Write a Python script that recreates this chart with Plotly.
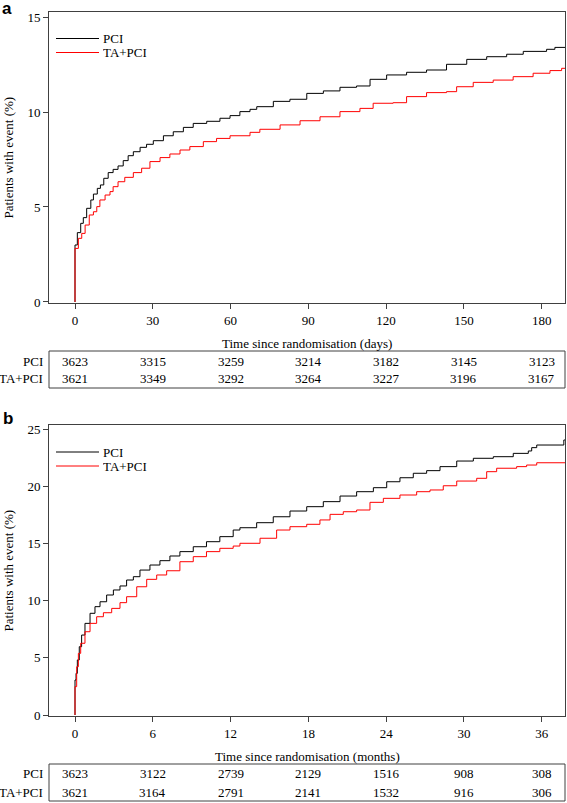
import plotly.graph_objects as go

# ---------------- data ----------------
# Panel a: cumulative events (%) vs days since randomisation
a_days_pci = [0, 0, 0.9, 2.2, 3.2, 4.5, 6.1, 7.1, 8.6, 9.8, 11.1, 12.8, 14.7, 16.6, 18.6, 20.5, 22.5, 25.1,
              27.6, 30.2, 34.1, 37.9, 41.8, 45.6, 50.8, 55.9, 59.8, 63.6, 67.5, 70.1, 76.5, 82.9, 89.4, 95.8,
              102.2, 108.6, 113.8, 120.2, 127.9, 135.6, 143.3, 151.1, 158.8, 166.5, 172.9, 181.9, 185.1, 189]
a_pct_pci = [0, 3.0, 3.65, 4.14, 4.44, 4.93, 5.37, 5.68, 5.98, 6.16, 6.51, 6.81, 6.98, 7.16, 7.44, 7.70, 7.91,
             8.14, 8.30, 8.49, 8.75, 8.96, 9.19, 9.40, 9.51, 9.67, 9.81, 10.02, 10.14, 10.28, 10.56, 10.67,
             10.98, 11.11, 11.30, 11.37, 11.72, 11.95, 12.09, 12.21, 12.51, 12.77, 12.91, 13.04, 13.19, 13.30,
             13.40, 13.40]
a_days_ta = [0, 0, 1.3, 2.6, 3.9, 5.5, 7.1, 8.4, 9.6, 11.6, 13.5, 14.7, 16.6, 19.2, 22.5, 25.7, 28.9, 32.8,
             36.6, 40.5, 44.3, 49.5, 54.6, 59.8, 67.5, 71.3, 79.1, 86.8, 94.5, 102.2, 109.9, 115.0, 122.7,
             127.9, 135.6, 143.3, 147.2, 153.6, 161.3, 169.0, 176.7, 183.2, 187.7, 189]
a_pct_ta = [0, 2.82, 3.35, 3.61, 4.05, 4.58, 4.75, 5.02, 5.37, 5.63, 5.81, 6.07, 6.33, 6.56, 6.81, 7.04, 7.39,
            7.60, 7.79, 8.0, 8.18, 8.44, 8.61, 8.75, 8.93, 9.09, 9.32, 9.54, 9.75, 10.02, 10.19, 10.46, 10.49,
            10.81, 11.02, 11.07, 11.33, 11.56, 11.68, 11.86, 12.04, 12.18, 12.30, 12.30]

# Panel b: cumulative events (%) vs months since randomisation
b_months_pci = [0, 0, 0.08, 0.18, 0.33, 0.51, 0.77, 1.16, 1.54, 1.93, 2.44, 2.96, 3.47, 3.98, 4.50, 5.01, 5.78,
                6.55, 7.32, 8.09, 9.12, 10.14, 11.17, 12.20, 12.72, 14.01, 15.29, 16.58, 17.87, 19.15, 20.44,
                21.72, 23.01, 24.04, 25.06, 26.09, 27.12, 28.15, 29.44, 30.72, 32.26, 33.80, 34.96, 35.22,
                35.61, 37.7, 37.8]
b_pct_pci = [0, 3.06, 3.64, 4.81, 5.97, 6.99, 8.01, 8.89, 9.47, 9.90, 10.49, 10.93, 11.28, 11.80, 12.09, 12.67,
             13.11, 13.49, 13.90, 14.28, 14.71, 15.15, 15.59, 16.17, 16.37, 16.81, 17.33, 17.83, 18.21, 18.65,
             19.14, 19.52, 19.87, 20.39, 20.74, 21.13, 21.36, 21.71, 22.20, 22.44, 22.58, 22.87, 23.08, 23.37,
             23.60, 24.04, 24.04]
b_months_ta = [0, 0, 0.13, 0.26, 0.44, 0.77, 1.16, 1.67, 2.19, 2.83, 3.47, 3.98, 4.76, 5.53, 6.30, 7.07, 8.09,
               9.12, 10.14, 11.17, 12.20, 12.72, 14.27, 15.55, 16.58, 17.87, 18.89, 19.67, 20.69, 21.72, 22.75,
               23.78, 25.06, 26.35, 27.38, 28.40, 29.44, 30.98, 31.75, 32.52, 34.06, 34.83, 35.61, 37.8]
b_pct_ta = [0, 2.48, 4.22, 5.39, 6.27, 7.28, 8.01, 8.59, 8.94, 9.32, 9.82, 10.34, 11.21, 11.86, 12.24, 12.61,
            13.40, 13.84, 14.28, 14.57, 14.77, 15.01, 15.45, 16.17, 16.46, 16.67, 17.05, 17.54, 17.77, 17.92,
            18.59, 18.94, 19.23, 19.52, 19.67, 20.04, 20.45, 20.69, 21.27, 21.57, 21.71, 21.85, 22.05, 22.05]

# Ticks and numbers at risk
a_xticks = [0, 30, 60, 90, 120, 150, 180]
a_yticks = [0, 5, 10, 15]
b_xticks = [0, 6, 12, 18, 24, 30, 36]
b_yticks = [0, 5, 10, 15, 20, 25]
a_risk_pci = [3623, 3315, 3259, 3214, 3182, 3145, 3123]
a_risk_ta = [3621, 3349, 3292, 3264, 3227, 3196, 3167]
b_risk_pci = [3623, 3122, 2739, 2129, 1516, 908, 308]
b_risk_ta = [3621, 3164, 2791, 2141, 1532, 916, 306]
series_names = ["PCI", "TA+PCI"]
series_colors = ["#000000", "#ff0000"]
a_xtitle = "Time since randomisation (days)"
b_xtitle = "Time since randomisation (months)"
ytitle = "Patients with event (%)"

# ---------------- layout helpers ----------------
W, H = 567, 803
ML, MR, MT, MB = 49, 2, 12, 87
PW = W - ML - MR
PH = H - MT - MB
BOTTOM = H - MB


def px(p):
    return (p - ML) / PW


def py(p):
    return (BOTTOM - p) / PH


SERIF = "Liberation Serif, Times New Roman, serif"
AX = "#404040"

fig = go.Figure()
fig.add_trace(go.Scatter(x=a_days_pci, y=a_pct_pci, mode="lines", line=dict(color=series_colors[0], width=1, shape="hv"),
                         xaxis="x", yaxis="y", showlegend=False, name=series_names[0]))
fig.add_trace(go.Scatter(x=a_days_ta, y=a_pct_ta, mode="lines", line=dict(color=series_colors[1], width=1, shape="hv"),
                         xaxis="x", yaxis="y", showlegend=False, name=series_names[1]))
fig.add_trace(go.Scatter(x=b_months_pci, y=b_pct_pci, mode="lines", line=dict(color=series_colors[0], width=1, shape="hv"),
                         xaxis="x2", yaxis="y2", showlegend=False, name=series_names[0]))
fig.add_trace(go.Scatter(x=b_months_ta, y=b_pct_ta, mode="lines", line=dict(color=series_colors[1], width=1, shape="hv"),
                         xaxis="x2", yaxis="y2", showlegend=False, name=series_names[1]))

axis_common = dict(showline=True, linecolor=AX, linewidth=1, mirror=True, ticks="outside", ticklen=5,
                   tickcolor=AX, tickwidth=1, showgrid=False, zeroline=False,
                   tickfont=dict(family=SERIF, size=13, color="black"))

a_top, a_bot = 12, 303
b_top, b_bot = 425, 716

fig.update_layout(
    width=W, height=H, margin=dict(l=ML, r=MR, t=MT, b=MB),
    paper_bgcolor="white", plot_bgcolor="white", showlegend=False,
    xaxis=dict(domain=[0, 1], anchor="y", range=[-10.03, 189.0], tickvals=a_xticks, **axis_common),
    yaxis=dict(domain=[py(a_bot), py(a_top)], anchor="x", range=[-0.053, 15.263], tickvals=a_yticks, **axis_common),
    xaxis2=dict(domain=[0, 1], anchor="y2", range=[-2.005, 37.79], tickvals=b_xticks, **axis_common),
    yaxis2=dict(domain=[py(b_bot), py(b_top)], anchor="x2", range=[-0.087, 25.35], tickvals=b_yticks, **axis_common),
)

ann = []
shapes = []


def txt(x, y, s, xanchor="center", size=13, family=SERIF, bold=False, xref="paper", angle=0, height=None):
    d = dict(x=x, y=y, xref=xref, yref="paper", text=("<b>%s</b>" % s) if bold else s,
             showarrow=False, xanchor=xanchor, yanchor="middle", textangle=angle,
             font=dict(family=family, size=size, color="black"))
    if height is not None:
        d["height"] = height
        d["borderpad"] = 0
    ann.append(d)


# panel letters
txt(px(0), py(8), "a", xanchor="left", size=17, family="Liberation Sans, Arial, sans-serif", bold=True)
txt(px(1), py(418), "b", xanchor="left", size=17, family="Liberation Sans, Arial, sans-serif", bold=True)

# y titles
txt(px(8), py((a_top + a_bot) / 2), ytitle, angle=-90)
txt(px(8), py((b_top + b_bot) / 2), ytitle, angle=-90)

# x titles
txt(0.5, py(343), a_xtitle)
txt(0.5, py(756), b_xtitle)

# legends (line samples + labels)
for (ly, name, col) in [(38.5, series_names[0], series_colors[0]), (52.5, series_names[1], series_colors[1]),
                        (452, series_names[0], series_colors[0]), (466, series_names[1], series_colors[1])]:
    shapes.append(dict(type="line", xref="paper", yref="paper", x0=px(56), x1=px(99), y0=py(ly), y1=py(ly),
                       line=dict(color=col, width=1)))
    txt(px(102), py(ly), name, xanchor="left", height=12)

# numbers-at-risk tables
for (xa, ticks, rows, box_top, box_bot, row_y) in [
    ("x", a_xticks, [a_risk_pci, a_risk_ta], 351, 388, [361, 379]),
    ("x2", b_xticks, [b_risk_pci, b_risk_ta], 764, 801, [774, 792]),
]:
    shapes.append(dict(type="rect", xref="paper", yref="paper", x0=0, x1=1, y0=py(box_bot), y1=py(box_top),
                       line=dict(color=AX, width=1), fillcolor="rgba(0,0,0,0)"))
    for name, vals, ry in zip(series_names, rows, row_y):
        txt(px(45), py(ry), name, xanchor="right")
        for t, v in zip(ticks, vals):
            txt(t, py(ry), str(v), xref=xa)

fig.update_layout(annotations=ann, shapes=shapes)
fig.write_html(
    "out.html",
    config={"displayModeBar": False},
    post_script="document.body.style.margin='0';document.body.style.padding='0';"
                "document.documentElement.style.overflow='hidden';",
)
